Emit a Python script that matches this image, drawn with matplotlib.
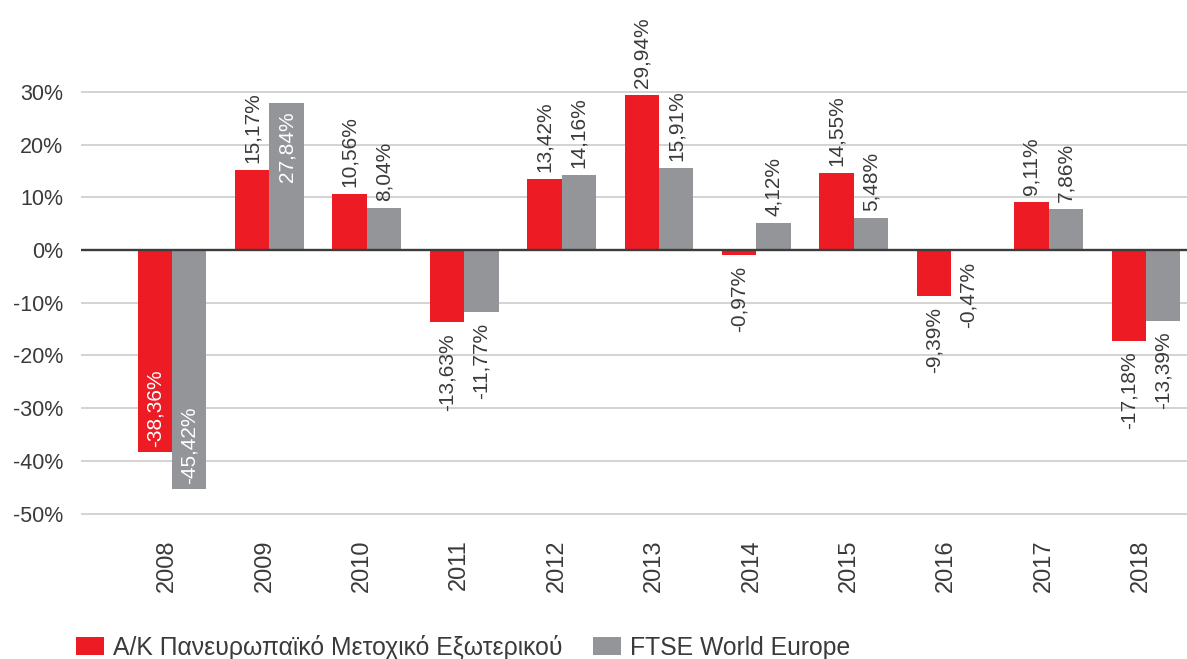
import matplotlib
matplotlib.use("Agg")
import matplotlib.pyplot as plt
import matplotlib.transforms as mtransforms
import numpy as np

plt.rcParams['font.family'] = ['Liberation Sans', 'DejaVu Sans']

# ---- data ----
years = ["2008", "2009", "2010", "2011", "2012", "2013",
         "2014", "2015", "2016", "2017", "2018"]
series_names = ["Α/Κ Πανευρωπαϊκό Μετοχικό Εξωτερικού", "FTSE World Europe"]
# bar heights as drawn in the picture (%)
fund_bars = [-38.36, 15.17, 10.56, -13.63, 13.42, 29.4, -0.97, 14.55, -8.7, 9.11, -17.18]
ftse_bars = [-45.42, 27.84, 8.04, -11.77, 14.16, 15.6, 5.1, 6.1, -0.2, 7.86, -13.39]
# printed value labels
fund_labels = ["-38,36%", "15,17%", "10,56%", "-13,63%", "13,42%", "29,94%",
               "-0,97%", "14,55%", "-9,39%", "9,11%", "-17,18%"]
ftse_labels = ["-45,42%", "27,84%", "8,04%", "-11,77%", "14,16%", "15,91%",
               "4,12%", "5,48%", "-0,47%", "7,86%", "-13,39%"]
y_ticks = [-50, -40, -30, -20, -10, 0, 10, 20, 30]

# ---- style ----
RED = "#ED1C24"
GRAY = "#939598"
TXT = "#3a3a3a"
inside = {(0, 0), (1, 0), (1, 1)}  # (series, index) labels drawn inside the bar

W, H = 1187, 659
fig = plt.figure(figsize=(W / 100, H / 100), dpi=100)
ax = fig.add_axes([81 / W, 1 - 518.8 / H, 1 - 81 / W, 518.8 / H])

x = np.arange(len(years))
bw = 0.354
series = [(fund_bars, fund_labels, RED), (ftse_bars, ftse_labels, GRAY)]
offsets = [-bw / 2, bw / 2]

for s, (vals, labs, col) in enumerate(series):
    ax.bar(x + offsets[s], vals, width=bw, color=col, zorder=2, label=series_names[s])
    for i, (v, t) in enumerate(zip(vals, labs)):
        xi = x[i] + offsets[s]
        if (s, i) in inside:
            if v >= 0:
                va, off = 'top', -6
            else:
                va, off = 'bottom', 4
            c = 'white'
        else:
            if v >= 0:
                va, off = 'bottom', 5
            else:
                va, off = 'top', -8
            c = TXT
        ax.annotate(t, xy=(xi, v), xytext=(0, off), textcoords='offset points',
                    rotation=90, ha='center', va=va, fontsize=15, color=c, zorder=4)

ax.axhline(0, color='#3c3c3c', lw=1.7, zorder=3)

ax.set_xlim((81 - 172) / 97.4, (1187 - 172) / 97.4)
ax.set_ylim(-51, 250 / 5.27)
ax.set_yticks(y_ticks)
ax.set_yticklabels([f"{v}%" for v in y_ticks])
ax.set_xticks(x)
ax.set_xticklabels(years, rotation=90)
ax.yaxis.grid(True, color='#c8c8c8', lw=1.1, zorder=0)
ax.set_axisbelow(True)
for sp in ax.spines.values():
    sp.set_visible(False)
ax.tick_params(axis='y', length=0, pad=13, labelsize=15.5, labelcolor=TXT)
ax.tick_params(axis='x', length=0, pad=15, labelsize=17, labelcolor=TXT)
shift = mtransforms.ScaledTranslation(-5 / 100, 0, fig.dpi_scale_trans)
for lbl in ax.get_xticklabels():
    lbl.set_transform(lbl.get_transform() + shift)

leg = fig.legend(loc='center left', bbox_to_anchor=(76 / W, 1 - 647 / H), ncol=2,
                 frameon=False, fontsize=17.8, handlelength=1.13, handleheight=0.77,
                 handletextpad=0.36, columnspacing=1.25, borderpad=0, borderaxespad=0)
for t in leg.get_texts():
    t.set_color(TXT)

fig.savefig("out.png", dpi=100)
